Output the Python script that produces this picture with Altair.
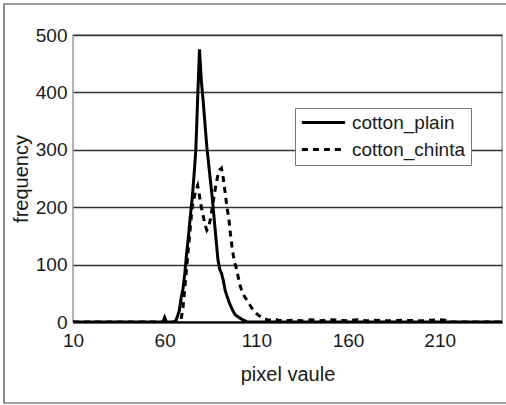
import altair as alt
import pandas as pd

# Histogram of pixel values for two cotton fabric samples
series_names = ["cotton_plain", "cotton_chinta"]

plain_x = [10, 59, 60, 61, 65, 66, 67, 68, 69, 70, 71, 72, 73, 74, 75, 76, 77, 78, 79,
           80, 81, 82, 83, 84, 85, 86, 87, 88, 89, 90, 91, 92, 93, 94, 95, 96, 97, 98,
           99, 100, 101, 102, 103, 104, 105, 244]
plain_y = [0, 0, 8, 0, 0, 2, 10, 20, 42, 58, 85, 120, 150, 185, 215, 255, 300, 390, 475,
           420, 385, 345, 305, 275, 245, 215, 180, 145, 110, 92, 85, 72, 55, 45, 36, 28, 21, 15,
           11, 9, 7, 5, 3, 2, 0, 0]

chinta_x = [10, 68, 69, 70, 71, 72, 73, 74, 75, 76, 77, 78, 79, 80, 81, 82, 83, 84, 85,
            86, 87, 88, 89, 90, 91, 92, 93, 94, 95, 96, 97, 98, 99, 100, 101, 102, 103, 104,
            105, 106, 107, 108, 109, 110, 111, 112, 113, 114, 115, 116, 118, 120, 122, 125,
            130, 135, 140, 145, 150, 155, 160, 165, 170, 175, 180, 190, 200, 210, 213, 215, 244]
chinta_y = [0, 0, 5, 25, 60, 95, 130, 165, 200, 215, 230, 238, 220, 200, 185, 170, 160, 165, 180,
            200, 220, 240, 255, 265, 268, 250, 225, 200, 180, 150, 125, 105, 95, 80, 65, 55, 48, 42,
            38, 32, 27, 22, 18, 15, 12, 10, 8, 6, 5, 4, 3, 5, 3, 2,
            3, 2, 4, 2, 4, 3, 2, 4, 2, 3, 2, 3, 2, 4, 3, 0, 0]

df = pd.concat([
    pd.DataFrame({"pixel": plain_x, "freq": plain_y, "series": series_names[0]}),
    pd.DataFrame({"pixel": chinta_x, "freq": chinta_y, "series": series_names[1]}),
])

FONT = "Liberation Sans"
INK = "#1a1a1a"

lines = alt.Chart(df).mark_line(color="black", strokeWidth=3, clip=True).encode(
    x=alt.X("pixel:Q",
            scale=alt.Scale(domain=[10, 244], nice=False, zero=False),
            axis=alt.Axis(values=[10, 60, 110, 160, 210], grid=False, ticks=False,
                          domainColor="black", domainWidth=2, labelPadding=9,
                          labelFontSize=19, labelColor=INK, labelFont=FONT,
                          labelFlush=False,
                          title="pixel vaule", titleFontSize=20, titleFontWeight="normal",
                          titleColor=INK, titleFont=FONT, titlePadding=14)),
    y=alt.Y("freq:Q",
            scale=alt.Scale(domain=[0, 500], nice=False),
            axis=alt.Axis(values=[0, 100, 200, 300, 400, 500], grid=True, gridColor="#333",
                          gridWidth=1.5, ticks=False, domain=False, labelPadding=6,
                          labelFontSize=19, labelColor=INK, labelFont=FONT,
                          title="frequency", titleFontSize=20, titleFontWeight="normal",
                          titleColor=INK, titleFont=FONT, titlePadding=4)),
    strokeDash=alt.StrokeDash("series:N",
                              scale=alt.Scale(domain=series_names, range=[[1, 0], [6, 5]]),
                              sort=series_names,
                              legend=alt.Legend(title=None, orient="none", legendX=222, legendY=73,
                                                symbolType="M-2.7,0H2.7", symbolSize=256,
                                                symbolOffset=14, symbolStrokeWidth=3,
                                                symbolStrokeColor="black",
                                                labelFontSize=19, labelFont=FONT, labelColor=INK,
                                                labelOffset=19, rowPadding=7, padding=5,
                                                strokeColor="#777", fillColor="white")),
    detail="series:N",
)

# Outer frame around the whole figure
frame = alt.Chart(pd.DataFrame({"k": [0]})).mark_rect(
    fill="transparent", stroke="#444", strokeWidth=1.2
).encode(
    x=alt.value(-69), x2=alt.value(440), y=alt.value(-31), y2=alt.value(368)
)

chart = alt.layer(frame, lines).properties(
    width=429, height=287,
    padding={"left": 73, "top": 35, "right": 4, "bottom": 83},
    autosize=alt.AutoSizeParams(type="none"),
    background="white",
).configure_view(stroke="#999", strokeWidth=1.5)

chart.save("out.html", embed_options={"renderer": "svg", "actions": False})
